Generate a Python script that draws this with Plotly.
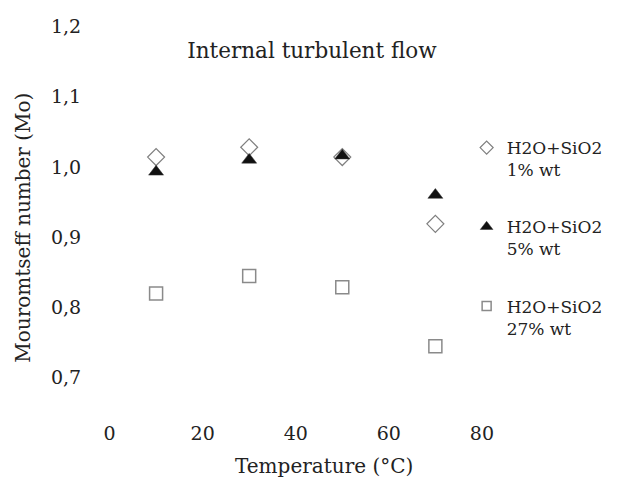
import plotly.graph_objects as go

temperature = [10, 30, 50, 70]
mo_1pct = [1.014, 1.028, 1.014, 0.919]
mo_5pct = [0.993, 1.010, 1.016, 0.960]
mo_27pct = [0.820, 0.845, 0.829, 0.745]

series_names = ["H2O+SiO2<br>1% wt", "H2O+SiO2<br>5% wt", "H2O+SiO2<br>27% wt"]
x_ticks = [0, 20, 40, 60, 80]
y_ticks = [0.7, 0.8, 0.9, 1.0, 1.1, 1.2]

FONT = "DejaVu Serif"
TXT = "#222222"

W, H = 620, 480
L, R, T, B = 100, 100, 20, 60
PW, PH = W - L - R, H - T - B


def px_x(p):
    return (p - L) / PW


def px_y(p):
    return 1 - (p - T) / PH


styles = [
    dict(symbol="diamond-open", color="#7f7f7f", line=dict(width=1.2, color="#7f7f7f")),
    dict(symbol="triangle-up", color="#111111", line=dict(width=0.5, color="#333333")),
    dict(symbol="square-open", color="#8a8a8a", line=dict(width=1.5, color="#8a8a8a")),
]
legend_sizes = [10, 11, 9]
series = [mo_1pct, mo_5pct, mo_27pct]

fig = go.Figure()
for ys, st in zip(series, styles):
    fig.add_trace(go.Scatter(
        x=temperature, y=ys, mode="markers", showlegend=False,
        marker=dict(size=13, **st),
    ))
# legend-only entries with the smaller legend symbols
for i, st in enumerate(styles):
    fig.add_trace(go.Scatter(
        x=[None], y=[None], mode="markers", name=series_names[i], legendgroup=str(i),
        marker=dict(size=legend_sizes[i], **st),
    ))

fig.update_layout(
    width=W, height=H,
    margin=dict(l=L, r=R, t=T, b=B),
    paper_bgcolor="white", plot_bgcolor="white",
    separators=",.",
    font=dict(family=FONT, size=18, color=TXT),
    title=dict(text="Internal turbulent flow", x=px_x(322), xref="paper", xanchor="center",
               y=1 - 50 / H, yref="container", yanchor="middle",
               font=dict(family=FONT, size=21.5, color=TXT)),
    showlegend=True,
    legend=dict(x=px_x(484), xanchor="left", y=px_y(130), yanchor="top",
                font=dict(family=FONT, size=17, color=TXT),
                itemwidth=30, valign="top", tracegroupgap=32,
                bgcolor="rgba(0,0,0,0)"),
    xaxis=dict(range=[-2.05, 84.1], tickvals=x_ticks, showgrid=False, zeroline=False,
               showline=False, ticks="", tickfont=dict(family=FONT, size=19)),
    yaxis=dict(range=[0.640, 1.209], tickvals=y_ticks, tickformat=".1f", showgrid=False,
               zeroline=False, showline=False, ticks="outside", ticklen=14,
               tickcolor="rgba(0,0,0,0)", tickfont=dict(family=FONT, size=19)),
    annotations=[
        dict(text="Temperature (°C)", xref="paper", yref="paper", x=px_x(335), y=px_y(466),
             xanchor="center", yanchor="middle", showarrow=False,
             font=dict(family=FONT, size=20, color=TXT)),
        dict(text="Mouromtseff number (Mo)", xref="paper", yref="paper", x=px_x(19), y=px_y(228),
             xanchor="center", yanchor="middle", showarrow=False, textangle=-90,
             font=dict(family=FONT, size=20, color=TXT)),
    ],
)

fig.write_html("out.html")
